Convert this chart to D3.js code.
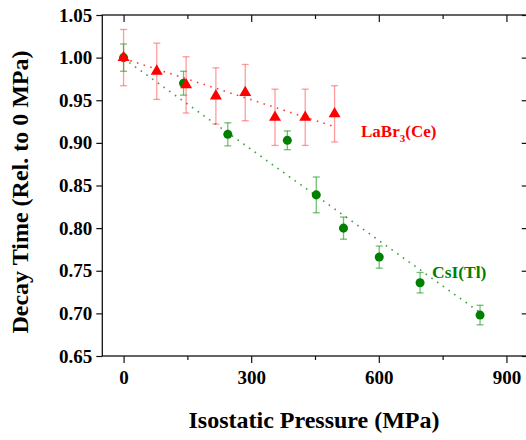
<!DOCTYPE html>
<html>
<head>
<meta charset="utf-8">
<script src="https://cdn.jsdelivr.net/npm/d3@7.9.0/dist/d3.min.js"></script>
<style>
  body { margin: 0; background: #fff; }
  svg text { font-family: "Liberation Serif", "DejaVu Serif", serif; font-weight: bold; }
</style>
</head>
<body>
<svg id="chart" width="526" height="440"></svg>
<script>
// LaBr3(Ce) decay time vs pressure
const labrP   = [0, 78, 147, 217, 286, 356, 427, 496];
const labrVal = [1.000, 0.984, 0.968, 0.955, 0.959, 0.930, 0.930, 0.934];
const labrErr = [0.033, 0.033, 0.033, 0.033, 0.033, 0.033, 0.033, 0.033];
const labrFit = [[0, 0.999], [490, 0.920]];

// CsI(Tl)
const csiP   = [0, 141, 245, 385, 453, 517, 601, 697, 838];
const csiVal = [1.000, 0.970, 0.910, 0.903, 0.839, 0.800, 0.766, 0.736, 0.698];
const csiErr = [0.016, 0.014, 0.0135, 0.011, 0.021, 0.013, 0.013, 0.012, 0.0115];
const csiFit = [[0, 0.999], [835, 0.702]];

const xTicks = [0, 300, 600, 900];
const xMinor = [150, 450, 750];
const yTicks = [0.65, 0.70, 0.75, 0.80, 0.85, 0.90, 0.95, 1.00, 1.05];

const svg = d3.select('#chart');
const mLeft = 102.3, mRight = 527.7, mTop = 15, mBottom = 356;

const x = d3.scaleLinear().domain([-50, 950]).range([mLeft, mRight]);
const y = d3.scaleLinear().domain([0.65, 1.05]).range([mBottom, mTop]);

// axes
svg.append('g').attr('transform', `translate(0,${mBottom})`)
  .call(d3.axisBottom(x).tickValues(xTicks).tickSize(7).tickPadding(8).tickFormat(d3.format('d')));
svg.append('g').attr('transform', `translate(0,${mBottom})`)
  .call(d3.axisBottom(x).tickValues(xMinor).tickSize(4).tickFormat(''));
svg.append('g').attr('transform', `translate(0,${mTop})`)
  .call(d3.axisBottom(x).tickValues(xTicks).tickSize(7).tickFormat(''));
svg.append('g').attr('transform', `translate(0,${mTop})`)
  .call(d3.axisBottom(x).tickValues(xMinor).tickSize(4).tickFormat(''));
svg.append('g').attr('transform', `translate(${mLeft},0)`)
  .call(d3.axisLeft(y).tickValues(yTicks).tickSize(6).tickPadding(4).tickFormat(d3.format('.2f')));
svg.append('g').attr('transform', `translate(${mRight},0)`)
  .call(d3.axisLeft(y).tickValues(yTicks).tickSize(6).tickFormat(''));

svg.selectAll('.domain').remove();
svg.selectAll('g').attr('font-family', null).attr('font-size', null);
svg.selectAll('.tick line').attr('stroke', '#111').attr('stroke-width', 1.2);
svg.selectAll('.tick text').attr('fill', '#000').style('font-size', '19px');

// frame
svg.append('rect')
  .attr('x', mLeft).attr('y', mTop)
  .attr('width', mRight - mLeft).attr('height', mBottom - mTop)
  .attr('fill', 'none').attr('stroke', '#111').attr('stroke-width', 1.3);

// axis titles
svg.append('text')
  .attr('x', 314).attr('y', 428)
  .attr('text-anchor', 'middle').style('font-size', '24px')
  .text('Isostatic Pressure (MPa)');
svg.append('text')
  .attr('transform', `translate(28,192) rotate(-90)`)
  .attr('text-anchor', 'middle').style('font-size', '24px')
  .text('Decay Time (Rel. to 0 MPa)');

const line = d3.line().x(d => x(d[0])).y(d => y(d[1]));

function drawSeries(P, V, E, fit, color, errColor, symbol) {
  svg.append('path')
    .attr('d', line(fit))
    .attr('fill', 'none').attr('stroke', color)
    .attr('stroke-width', 1.6).attr('stroke-dasharray', '1.6,5.4')
    .attr('opacity', 0.75);

  const pts = P.map((p, i) => ({ p, v: V[i], e: E[i] }));
  const g = svg.append('g');
  const bars = g.selectAll('g.err').data(pts).join('g').attr('class', 'err')
    .attr('stroke', errColor).attr('stroke-width', 1.3);
  bars.append('line')
    .attr('x1', d => x(d.p)).attr('x2', d => x(d.p))
    .attr('y1', d => y(d.v + d.e)).attr('y2', d => y(d.v - d.e));
  [1, -1].forEach(s => {
    bars.append('line')
      .attr('x1', d => x(d.p) - 3.5).attr('x2', d => x(d.p) + 3.5)
      .attr('y1', d => y(d.v + s * d.e)).attr('y2', d => y(d.v + s * d.e));
  });

  g.selectAll('path.m').data(pts).join('path').attr('class', 'm')
    .attr('d', d3.symbol().type(symbol).size(symbol === d3.symbolCircle ? 64 : 62))
    .attr('transform', d => `translate(${x(d.p)},${y(d.v)})`)
    .attr('fill', color);
}

drawSeries(csiP, csiVal, csiErr, csiFit, '#008000', 'rgba(0,140,0,0.55)', d3.symbolCircle);
drawSeries(labrP, labrVal, labrErr, labrFit, '#ff0000', 'rgba(255,60,60,0.5)', d3.symbolTriangle);

// series labels
const lab = svg.append('text').attr('x', 361).attr('y', 137)
  .attr('fill', '#ff0000').style('font-size', '17px');
lab.append('tspan').text('LaBr');
lab.append('tspan').attr('dy', 5).style('font-size', '11px').text('3');
lab.append('tspan').attr('dy', -5).text('(Ce)');

svg.append('text').attr('x', 432).attr('y', 278)
  .attr('fill', '#008000').style('font-size', '17.5px')
  .text('CsI(Tl)');
</script>
</body>
</html>
